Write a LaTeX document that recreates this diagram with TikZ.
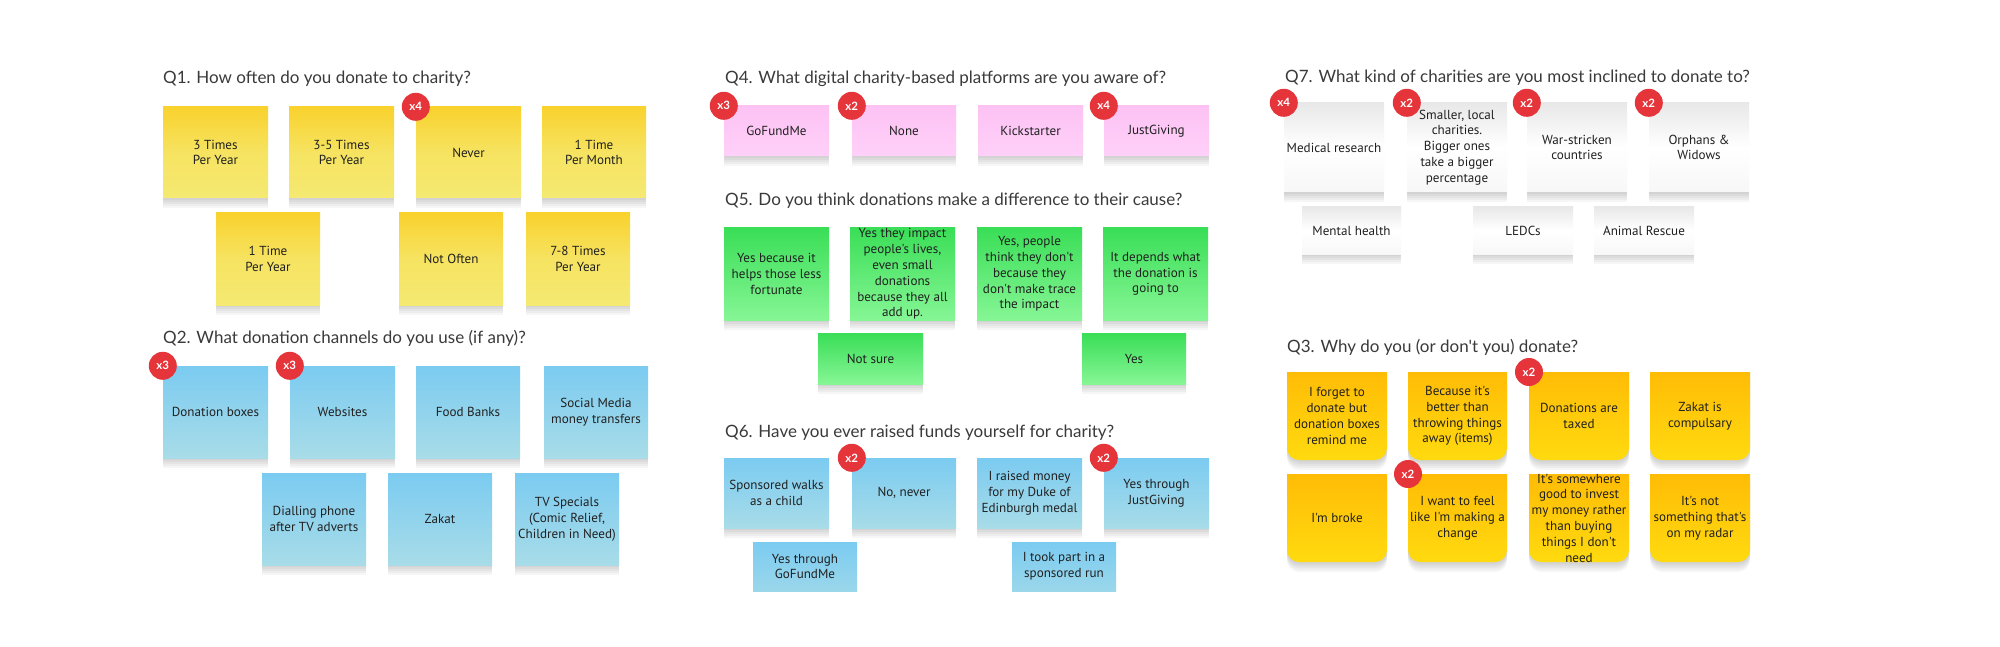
\documentclass[tikz,border=0pt]{standalone}
\usepackage{fontspec}
\setmainfont{PT Sans}
\newfontfamily\titlefont{Lato}
\newfontfamily\notefont{PT Sans}
\usetikzlibrary{shadows}
\definecolor{ttl}{HTML}{3A3A3A}
\definecolor{ink}{HTML}{202020}
\definecolor{yelT}{HTML}{F9D22E}
\definecolor{yelM}{HTML}{F6E361}
\definecolor{yelB}{HTML}{F5E972}
\definecolor{bluT}{HTML}{7BCBF1}
\definecolor{bluB}{HTML}{A8DCE8}
\definecolor{pnkT}{HTML}{FCC2F3}
\definecolor{pnkB}{HTML}{FFD0F9}
\definecolor{grnT}{HTML}{3ADE57}
\definecolor{grnB}{HTML}{86F695}
\definecolor{wT}{HTML}{E8E8E8}
\definecolor{orT}{HTML}{FFBC06}
\definecolor{orB}{HTML}{FFDA0F}
\definecolor{badgered}{HTML}{E5343A}
\newcommand\sticky[7]{\node[#1, minimum width={(#5-#3)*1pt}, minimum height={(#6-#4)*1pt}] (#2) at ({(#3+#5)/2},{(#4+#6)/2}) {#7};}
\newcommand\roundnote[6]{%
  \shade[softshadow, top color=orT, bottom color=orB]
    (#2,#3) -- (#2,{#5-12}) arc[start angle=180,end angle=270,radius=12pt]
    -- ({#4-12},#5) arc[start angle=270,end angle=360,radius=12pt]
    -- (#4,#3) -- cycle;
  \node[notetext] (#1) at ({(#2+#4)/2},{(#3+#5)/2}) {#6};}
\begin{document}
\begin{tikzpicture}[x=1pt,y=-1pt,
  softshadow/.style={
    general shadow={fill=black,opacity=.035,shadow yshift=-2pt},
    general shadow={fill=black,opacity=.035,shadow yshift=-4pt},
    general shadow={fill=black,opacity=.035,shadow yshift=-6pt},
    general shadow={fill=black,opacity=.035,shadow yshift=-8pt},
    general shadow={fill=black,opacity=.035,shadow yshift=-10pt}},
  notetext/.style={inner sep=0pt, align=center, text=ink, font=\notefont\fontsize{13.1}{15.8}\selectfont},
  note/.style={rectangle, notetext, softshadow},
  yel/.style={note, top color=yelT, bottom color=yelB, middle color=yelM},
  blu/.style={note, top color=bluT, bottom color=bluB},
  blucut/.style={notetext, rectangle, top color=bluT, bottom color=bluB!70!bluT},
  pnk/.style={note, top color=pnkT, bottom color=pnkB},
  grn/.style={note, top color=grnT, bottom color=grnB},
  wht/.style={note, top color=wT, bottom color=white!97!black, middle color=white},
  ttlstyle/.style={anchor=base west, inner sep=0pt, text=ttl, font=\titlefont\fontsize{17}{20}\selectfont},
  badge/.style={circle, fill=badgered, text=white, minimum size=28pt, inner sep=0pt,
    font=\titlefont\bfseries\fontsize{11.5}{12}\selectfont}]
\fill[white] (0,0) rectangle (2000,647);
\useasboundingbox (0,0) rectangle (2000,647);

% ---------- Q1 ----------
\node[ttlstyle] (t1) at (163,84) {Q1. How often do you donate to charity?};
\sticky{yel}{q1a}{163}{107}{268}{198}{3 Times\\Per Year}
\sticky{yel}{q1b}{289}{107}{394}{198}{3-5 Times\\Per Year}
\sticky{yel}{q1c}{416}{107}{521}{198}{Never}
\sticky{yel}{q1d}{542}{107}{646}{198}{1 Time\\Per Month}
\sticky{yel}{q1e}{216}{213}{320}{305}{1 Time\\Per Year}
\sticky{yel}{q1f}{399}{213}{503}{305}{Not Often}
\sticky{yel}{q1g}{526}{213}{630}{305}{7-8 Times\\Per Year}
\node[badge] (b1c) at (q1c.north west) {x4};

% ---------- Q2 ----------
\node[ttlstyle] (t2) at (163,343) {Q2. What donation channels do you use (if any)?};
\sticky{blu}{q2a}{163}{366}{268}{458}{Donation boxes}
\sticky{blu}{q2b}{290}{366}{395}{458}{Websites}
\sticky{blu}{q2c}{416}{366}{520}{458}{Food Banks}
\sticky{blu}{q2d}{544}{366}{648}{458}{Social Media\\money transfers}
\sticky{blu}{q2e}{262}{473}{366}{565}{Dialling phone\\after TV adverts}
\sticky{blu}{q2f}{388}{473}{492}{565}{Zakat}
\sticky{blu}{q2g}{515}{473}{619}{565}{TV Specials\\(Comic Relief,\\Children in Need)}
\node[badge] (b2a) at (q2a.north west) {x3};
\node[badge] (b2b) at (q2b.north west) {x3};

% ---------- Q4 ----------
\node[ttlstyle] (t4) at (725,84) {Q4. What digital charity-based platforms are you aware of?};
\sticky{pnk}{q4a}{724}{106}{829}{156}{GoFundMe}
\sticky{pnk}{q4b}{852}{106}{956}{156}{None}
\sticky{pnk}{q4c}{978}{106}{1083}{156}{Kickstarter}
\sticky{pnk}{q4d}{1104}{106}{1209}{156}{JustGiving}
\node[badge] (b4a) at (q4a.north west) {x3};
\node[badge] (b4b) at (q4b.north west) {x2};
\node[badge] (b4d) at (q4d.north west) {x4};

% ---------- Q5 ----------
\node[ttlstyle] (t5) at (725,206) {Q5. Do you think donations make a difference to their cause?};
\sticky{grn}{q5a}{724}{228}{829}{320}{Yes because it\\helps those less\\fortunate}
\sticky{grn}{q5b}{850}{228}{955}{320}{Yes they impact\\people's lives,\\even small\\donations\\because they all\\add up.}
\sticky{grn}{q5c}{977}{228}{1082}{320}{Yes, people\\think they don't\\because they\\don't make trace\\the impact}
\sticky{grn}{q5d}{1103}{228}{1208}{320}{It depends what\\the donation is\\going to}
\sticky{grn}{q5e}{818}{333}{923}{384}{Not sure}
\sticky{grn}{q5f}{1082}{333}{1186}{384}{Yes}

% ---------- Q6 ----------
\node[ttlstyle] (t6) at (725,437) {Q6. Have you ever raised funds yourself for charity?};
\sticky{blu}{q6a}{724}{458}{829}{528}{Sponsored walks\\as a child}
\sticky{blu}{q6b}{852}{458}{956}{528}{No, never}
\sticky{blu}{q6c}{977}{458}{1082}{528}{I raised money\\for my Duke of\\Edinburgh medal}
\sticky{blu}{q6d}{1104}{458}{1209}{528}{Yes through\\JustGiving}
\sticky{blucut}{q6e}{753}{542}{857}{591}{Yes through\\GoFundMe}
\sticky{blucut}{q6f}{1012}{542}{1116}{591}{I took part in a\\sponsored run}
\node[badge] (b6b) at (q6b.north west) {x2};
\node[badge] (b6d) at (q6d.north west) {x2};

% ---------- Q7 ----------
\node[ttlstyle] (t7) at (1285,83) {Q7. What kind of charities are you most inclined to donate to?};
\sticky{wht}{q7a}{1284}{103}{1384}{192}{Medical research}
\sticky{wht}{q7b}{1407}{103}{1507}{192}{Smaller, local\\charities.\\Bigger ones\\take a bigger\\percentage}
\sticky{wht}{q7c}{1527}{103}{1627}{192}{War-stricken\\countries}
\sticky{wht}{q7d}{1649}{103}{1749}{192}{Orphans \&\\Widows}
\sticky{wht}{q7e}{1302}{207}{1401}{254}{Mental health}
\sticky{wht}{q7f}{1473}{207}{1573}{254}{LEDCs}
\sticky{wht}{q7g}{1594}{207}{1694}{254}{Animal Rescue}
\node[badge] (b7a) at (q7a.north west) {x4};
\node[badge] (b7b) at (q7b.north west) {x2};
\node[badge] (b7c) at (q7c.north west) {x2};
\node[badge] (b7d) at (q7d.north west) {x2};

% ---------- Q3 ----------
\node[ttlstyle] (t3) at (1287,352) {Q3. Why do you (or don't you) donate?};
\roundnote{q3a}{1287}{372}{1387}{460}{I forget to\\donate but\\donation boxes\\remind me}
\roundnote{q3b}{1408}{372}{1507}{460}{Because it's\\better than\\throwing things\\away (items)}
\roundnote{q3c}{1529}{372}{1629}{460}{Donations are\\taxed}
\roundnote{q3d}{1650}{372}{1750}{460}{Zakat is\\compulsary}
\roundnote{q3e}{1287}{474}{1387}{562}{I'm broke}
\roundnote{q3f}{1408}{474}{1507}{562}{I want to feel\\like I'm making a\\change}
\roundnote{q3g}{1529}{474}{1629}{562}{It's somewhere\\good to invest\\my money rather\\than buying\\things I don't\\need}
\roundnote{q3h}{1650}{474}{1750}{562}{It's not\\something that's\\on my radar}
\coordinate (c3c) at (1529,372);
\coordinate (c3f) at (1408,474);
\node[badge] (b3c) at (c3c) {x2};
\node[badge] (b3f) at (c3f) {x2};
\end{tikzpicture}
\end{document}
